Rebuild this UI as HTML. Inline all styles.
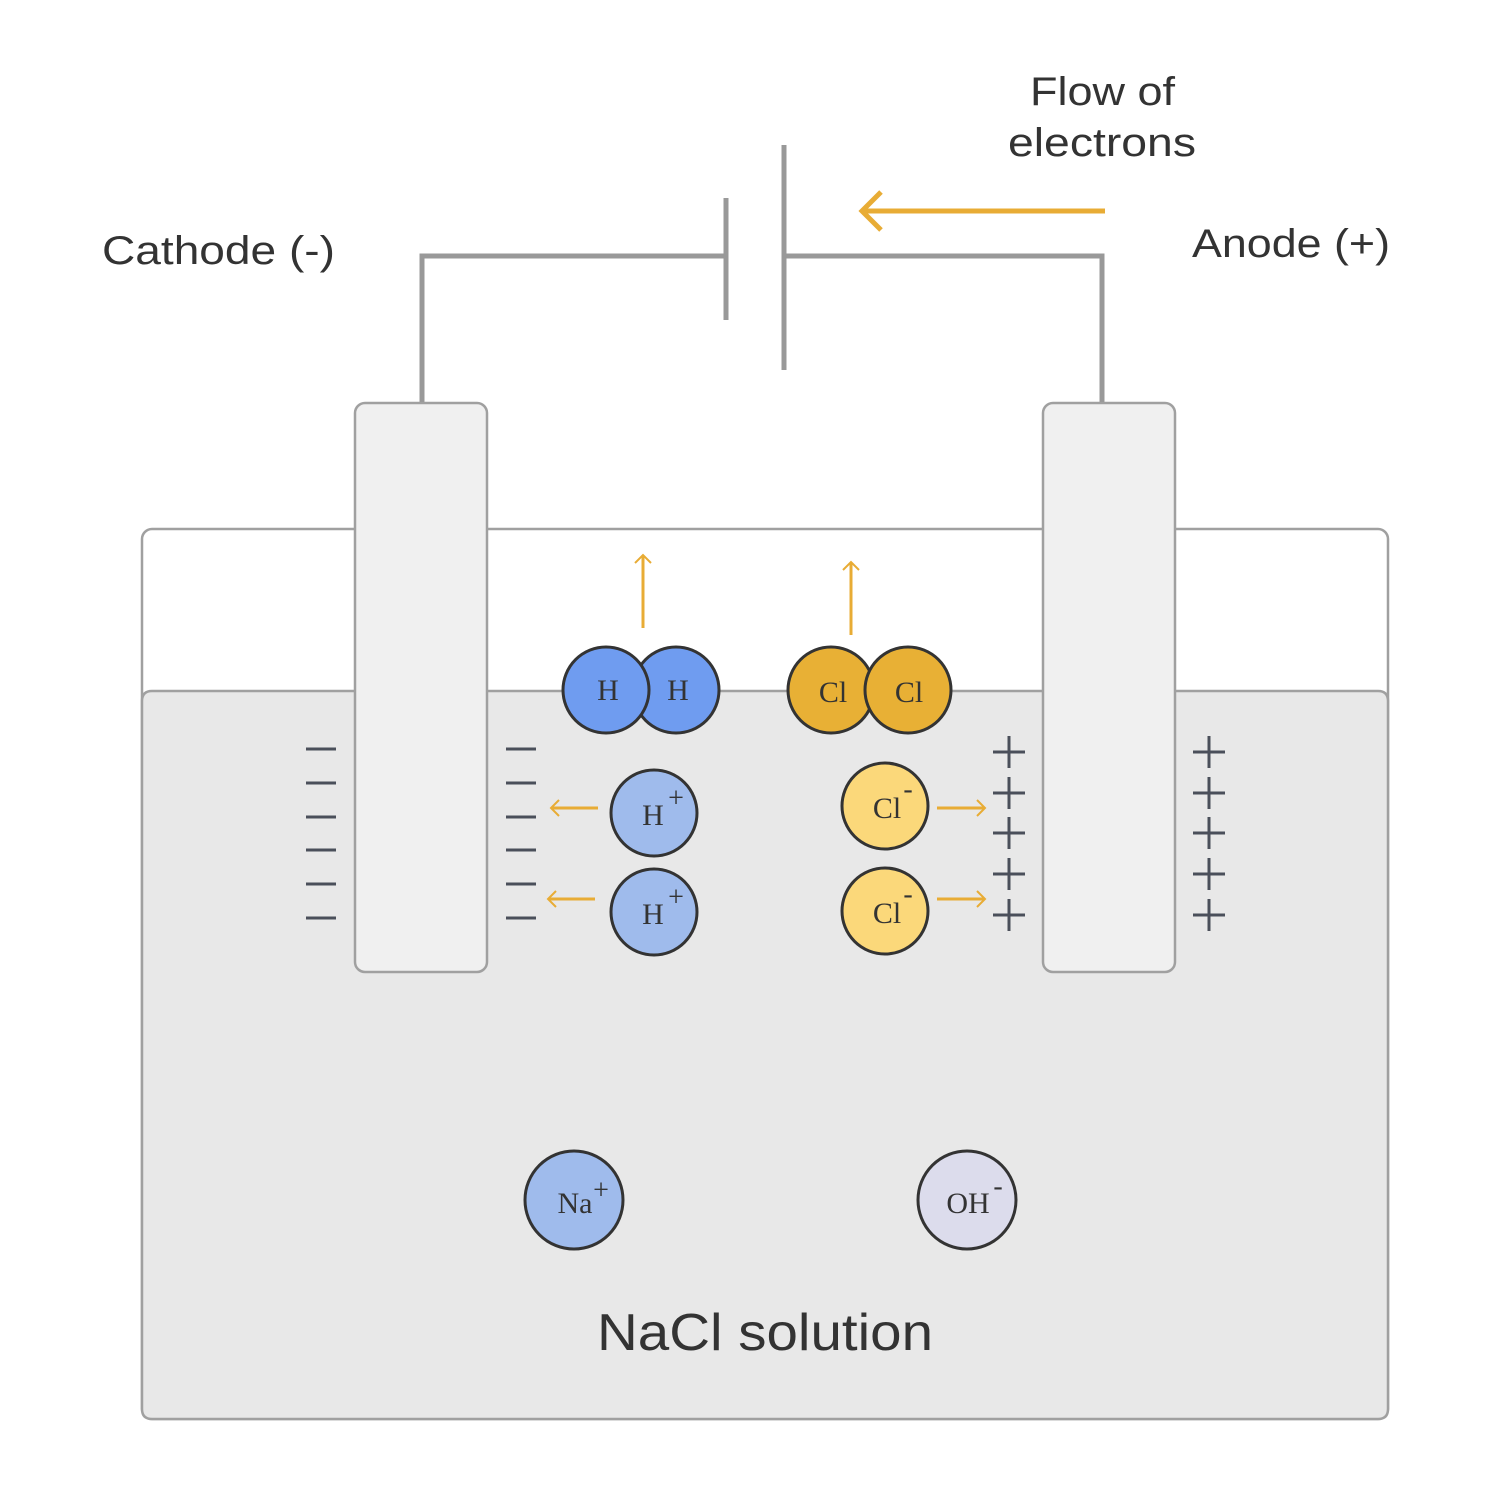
<!DOCTYPE html>
<html><head><meta charset="utf-8"><style>html,body{margin:0;padding:0;background:#fff}svg{display:block}</style></head>
<body>
<svg width="1500" height="1500" viewBox="0 0 1500 1500" xmlns="http://www.w3.org/2000/svg">
<defs>
<marker id="ah" viewBox="0 0 20 20" refX="10" refY="10" markerWidth="20" markerHeight="20" markerUnits="userSpaceOnUse" orient="auto"><path d="M2 2 L10 10 L2 18" fill="none" stroke="#e8ac35" stroke-width="2"/></marker>
</defs>
<!-- tank -->
<rect x="142" y="529" width="1246" height="890" rx="10" fill="#fff" stroke="#a0a0a0" stroke-width="2.5"/>
<path d="M142 701 Q142 691 152 691 L1378 691 Q1388 691 1388 701 L1388 1409 Q1388 1419 1378 1419 L152 1419 Q142 1419 142 1409 Z" fill="#e8e8e8" stroke="#a0a0a0" stroke-width="2.5"/>
<!-- wires -->
<path d="M422 402 V256 H726" fill="none" stroke="#999" stroke-width="5"/>
<path d="M786 256 H1102 V402" fill="none" stroke="#999" stroke-width="5"/>
<line x1="726" y1="198" x2="726" y2="320" stroke="#999" stroke-width="5"/>
<line x1="784" y1="145" x2="784" y2="370" stroke="#999" stroke-width="5"/>
<line x1="1105" y1="211" x2="862" y2="211" stroke="#e8ac35" stroke-width="5"/>
<path d="M881 192 L862 211 L881 230" fill="none" stroke="#e8ac35" stroke-width="5"/>
<!-- electrodes -->
<rect x="355" y="403" width="132" height="569" rx="10" fill="#f0f0f0" stroke="#a0a0a0" stroke-width="2.5"/>
<rect x="1043" y="403" width="132" height="569" rx="10" fill="#f0f0f0" stroke="#a0a0a0" stroke-width="2.5"/>
<g font-family="Liberation Sans, sans-serif" fill="#333">
<text x="102" y="264" font-size="40" textLength="233" lengthAdjust="spacingAndGlyphs">Cathode (-)</text>
<text x="1192" y="257" font-size="40" textLength="198" lengthAdjust="spacingAndGlyphs">Anode (+)</text>
<text x="1030" y="105" font-size="40" textLength="145" lengthAdjust="spacingAndGlyphs">Flow of</text>
<text x="1008" y="156" font-size="40" textLength="188" lengthAdjust="spacingAndGlyphs">electrons</text>
<text x="597" y="1350" font-size="52" textLength="336" lengthAdjust="spacingAndGlyphs">NaCl solution</text>
</g>
<!-- signs -->
<g stroke="#4a4f5a" stroke-width="3">
<path d="M306 749h30M306 783h30M306 817h30M306 850h30M306 884h30M306 918h30"/>
<path d="M506 749h30M506 783h30M506 817h30M506 850h30M506 884h30M506 918h30"/>
<path d="M993 752h32M1009 736v32M993 793h32M1009 777v32M993 833h32M1009 817v32M993 874h32M1009 858v32M993 915h32M1009 899v32"/>
<path d="M1193 752h32M1209 736v32M1193 793h32M1209 777v32M1193 833h32M1209 817v32M1193 874h32M1209 858v32M1193 915h32M1209 899v32"/>
</g>
<!-- arrows -->
<g stroke="#e8ac35" stroke-width="3" fill="none">
<line x1="643" y1="628" x2="643" y2="555" marker-end="url(#ah)"/>
<line x1="851" y1="635" x2="851" y2="562" marker-end="url(#ah)"/>
<line x1="598" y1="808" x2="551" y2="808" marker-end="url(#ah)"/>
<line x1="595" y1="899" x2="548" y2="899" marker-end="url(#ah)"/>
<line x1="937" y1="808" x2="985" y2="808" marker-end="url(#ah)"/>
<line x1="937" y1="899" x2="985" y2="899" marker-end="url(#ah)"/>
</g>
<!-- molecules -->
<g stroke="#333" stroke-width="3">
<circle cx="676" cy="690" r="43" fill="#6f9cf0"/>
<circle cx="606" cy="690" r="43" fill="#6f9cf0"/>
<circle cx="831" cy="690" r="43" fill="#e8b035"/>
<circle cx="908" cy="690" r="43" fill="#e8b035"/>
<circle cx="654" cy="813" r="43" fill="#9fbbec"/>
<circle cx="654" cy="912" r="43" fill="#9fbbec"/>
<circle cx="885" cy="806" r="43" fill="#fbd87a"/>
<circle cx="885" cy="911" r="43" fill="#fbd87a"/>
<circle cx="574" cy="1200" r="49" fill="#9fbbec"/>
<circle cx="967" cy="1200" r="49" fill="#dcdcec"/>
</g>
<g font-family="Liberation Serif, serif" fill="#333" font-size="30" text-anchor="middle">
<text x="608" y="700">H</text><text x="678" y="700">H</text>
<text x="833" y="702">Cl</text><text x="909" y="702">Cl</text>
<text x="653" y="825">H</text><text x="676" y="807" font-size="28">+</text>
<text x="653" y="924">H</text><text x="676" y="906" font-size="28">+</text>
<text x="887" y="818">Cl</text><text x="908" y="798" font-size="28">-</text>
<text x="887" y="923">Cl</text><text x="908" y="903" font-size="28">-</text>
<text x="575" y="1213">Na</text><text x="601" y="1199" font-size="28">+</text>
<text x="968" y="1213">OH</text><text x="998" y="1195" font-size="28">-</text>
</g>
</svg>
</body></html>
